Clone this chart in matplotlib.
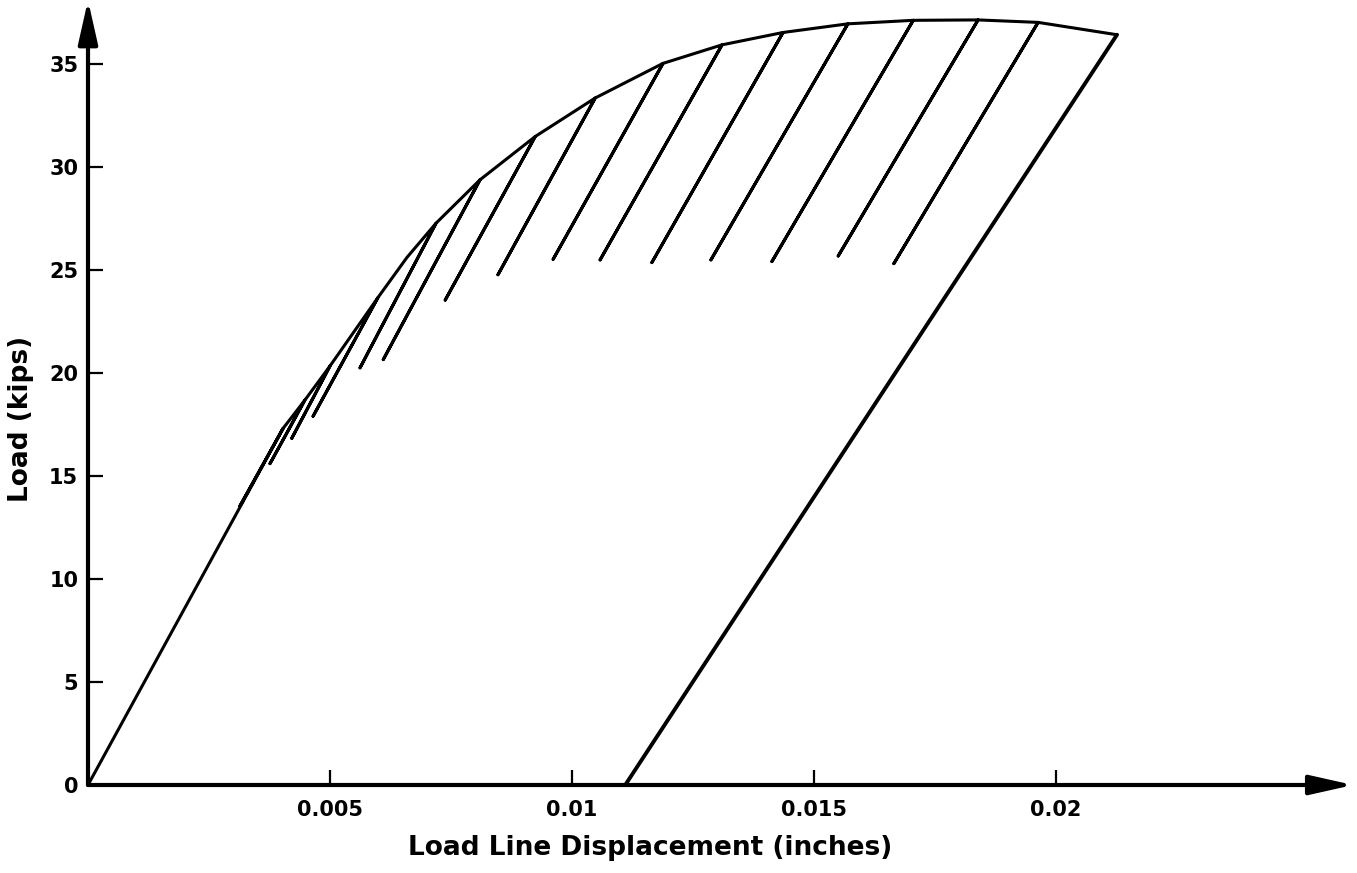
import matplotlib
matplotlib.use('Agg')
import matplotlib.pyplot as plt

# envelope (peak) points of the load - displacement record
env_disp = [0.0, 0.00403, 0.00448, 0.00500, 0.00599, 0.00659, 0.00719, 0.00810,
            0.00924, 0.01048, 0.01188, 0.01310, 0.01436, 0.01570, 0.01705,
            0.01839, 0.01963, 0.02126]
env_load = [0.0, 17.31, 18.68, 20.34, 23.66, 25.61, 27.27, 29.38,
            31.48, 33.35, 35.03, 35.93, 36.53, 36.95, 37.12,
            37.14, 37.02, 36.42]

# partial unloadings: which envelope point they start from, and where they stop
unload_from = [1, 2, 3, 4, 6, 7, 8, 9, 10, 11, 12, 13, 14, 15, 16]
valley_disp = [0.00314, 0.00376, 0.00421, 0.00465, 0.00562, 0.00610, 0.00738,
               0.00847, 0.00961, 0.01058, 0.01165, 0.01287, 0.01413, 0.01550,
               0.01665]
valley_load = [13.55, 15.60, 16.83, 17.90, 20.25, 20.65, 23.54,
               24.77, 25.52, 25.49, 25.36, 25.49, 25.41, 25.68,
               25.31]

# final unloading to zero load
final_disp = 0.0111
final_load = 0.0

xticks = [0.005, 0.01, 0.015, 0.02]
xtick_labels = ['0.005', '0.01', '0.015', '0.02']
yticks = [0, 5, 10, 15, 20, 25, 30, 35]

# build the pen path
px, py = [], []
for i in range(len(env_disp)):
    px.append(env_disp[i])
    py.append(env_load[i])
    if i in unload_from:
        k = unload_from.index(i)
        px += [valley_disp[k], env_disp[i]]
        py += [valley_load[k], env_load[i]]

W, H = 1357, 873
fig = plt.figure(figsize=(W / 100, H / 100), dpi=100)
x0, y0 = 88, 785
xmax, ymax = 0.0262, 38.1
sx, sy = 48400, 20.6
ax = fig.add_axes([x0 / W, 1 - y0 / H, xmax * sx / W, ymax * sy / H])
ax.set_xlim(0, xmax)
ax.set_ylim(0, ymax)

ax.plot(px, py, color='black', lw=2.2, solid_joinstyle='round', solid_capstyle='round')
ax.plot([env_disp[-1], final_disp], [env_load[-1], final_load], color='black', lw=2.8,
        solid_capstyle='round')

for s in ax.spines.values():
    s.set_visible(False)

arrow = dict(arrowstyle='-|>,head_length=0.8,head_width=0.18', mutation_scale=33,
             lw=3, color='black', shrinkA=0, shrinkB=0)
ax.annotate('', xy=(0, 38.1), xytext=(0, 0), arrowprops=arrow, annotation_clip=False)
ax.annotate('', xy=(0.02614, 0), xytext=(0, 0), arrowprops=arrow, annotation_clip=False)

ax.set_xticks(xticks)
ax.set_xticklabels(xtick_labels)
ax.set_yticks(yticks)
ax.tick_params(axis='both', direction='in', length=11, width=1.6, labelsize=15)
ax.tick_params(axis='x', pad=11)
ax.tick_params(axis='y', pad=7)
for lab in ax.get_xticklabels() + ax.get_yticklabels():
    lab.set_fontweight('bold')

fig.text(650 / W, 1 - 848 / H, 'Load Line Displacement (inches)', fontsize=19,
         fontweight='bold', ha='center', va='center')
fig.text(21 / W, 1 - 419 / H, 'Load (kips)', fontsize=19, fontweight='bold',
         ha='center', va='center', rotation=90)

fig.savefig('out.png', dpi=100)
